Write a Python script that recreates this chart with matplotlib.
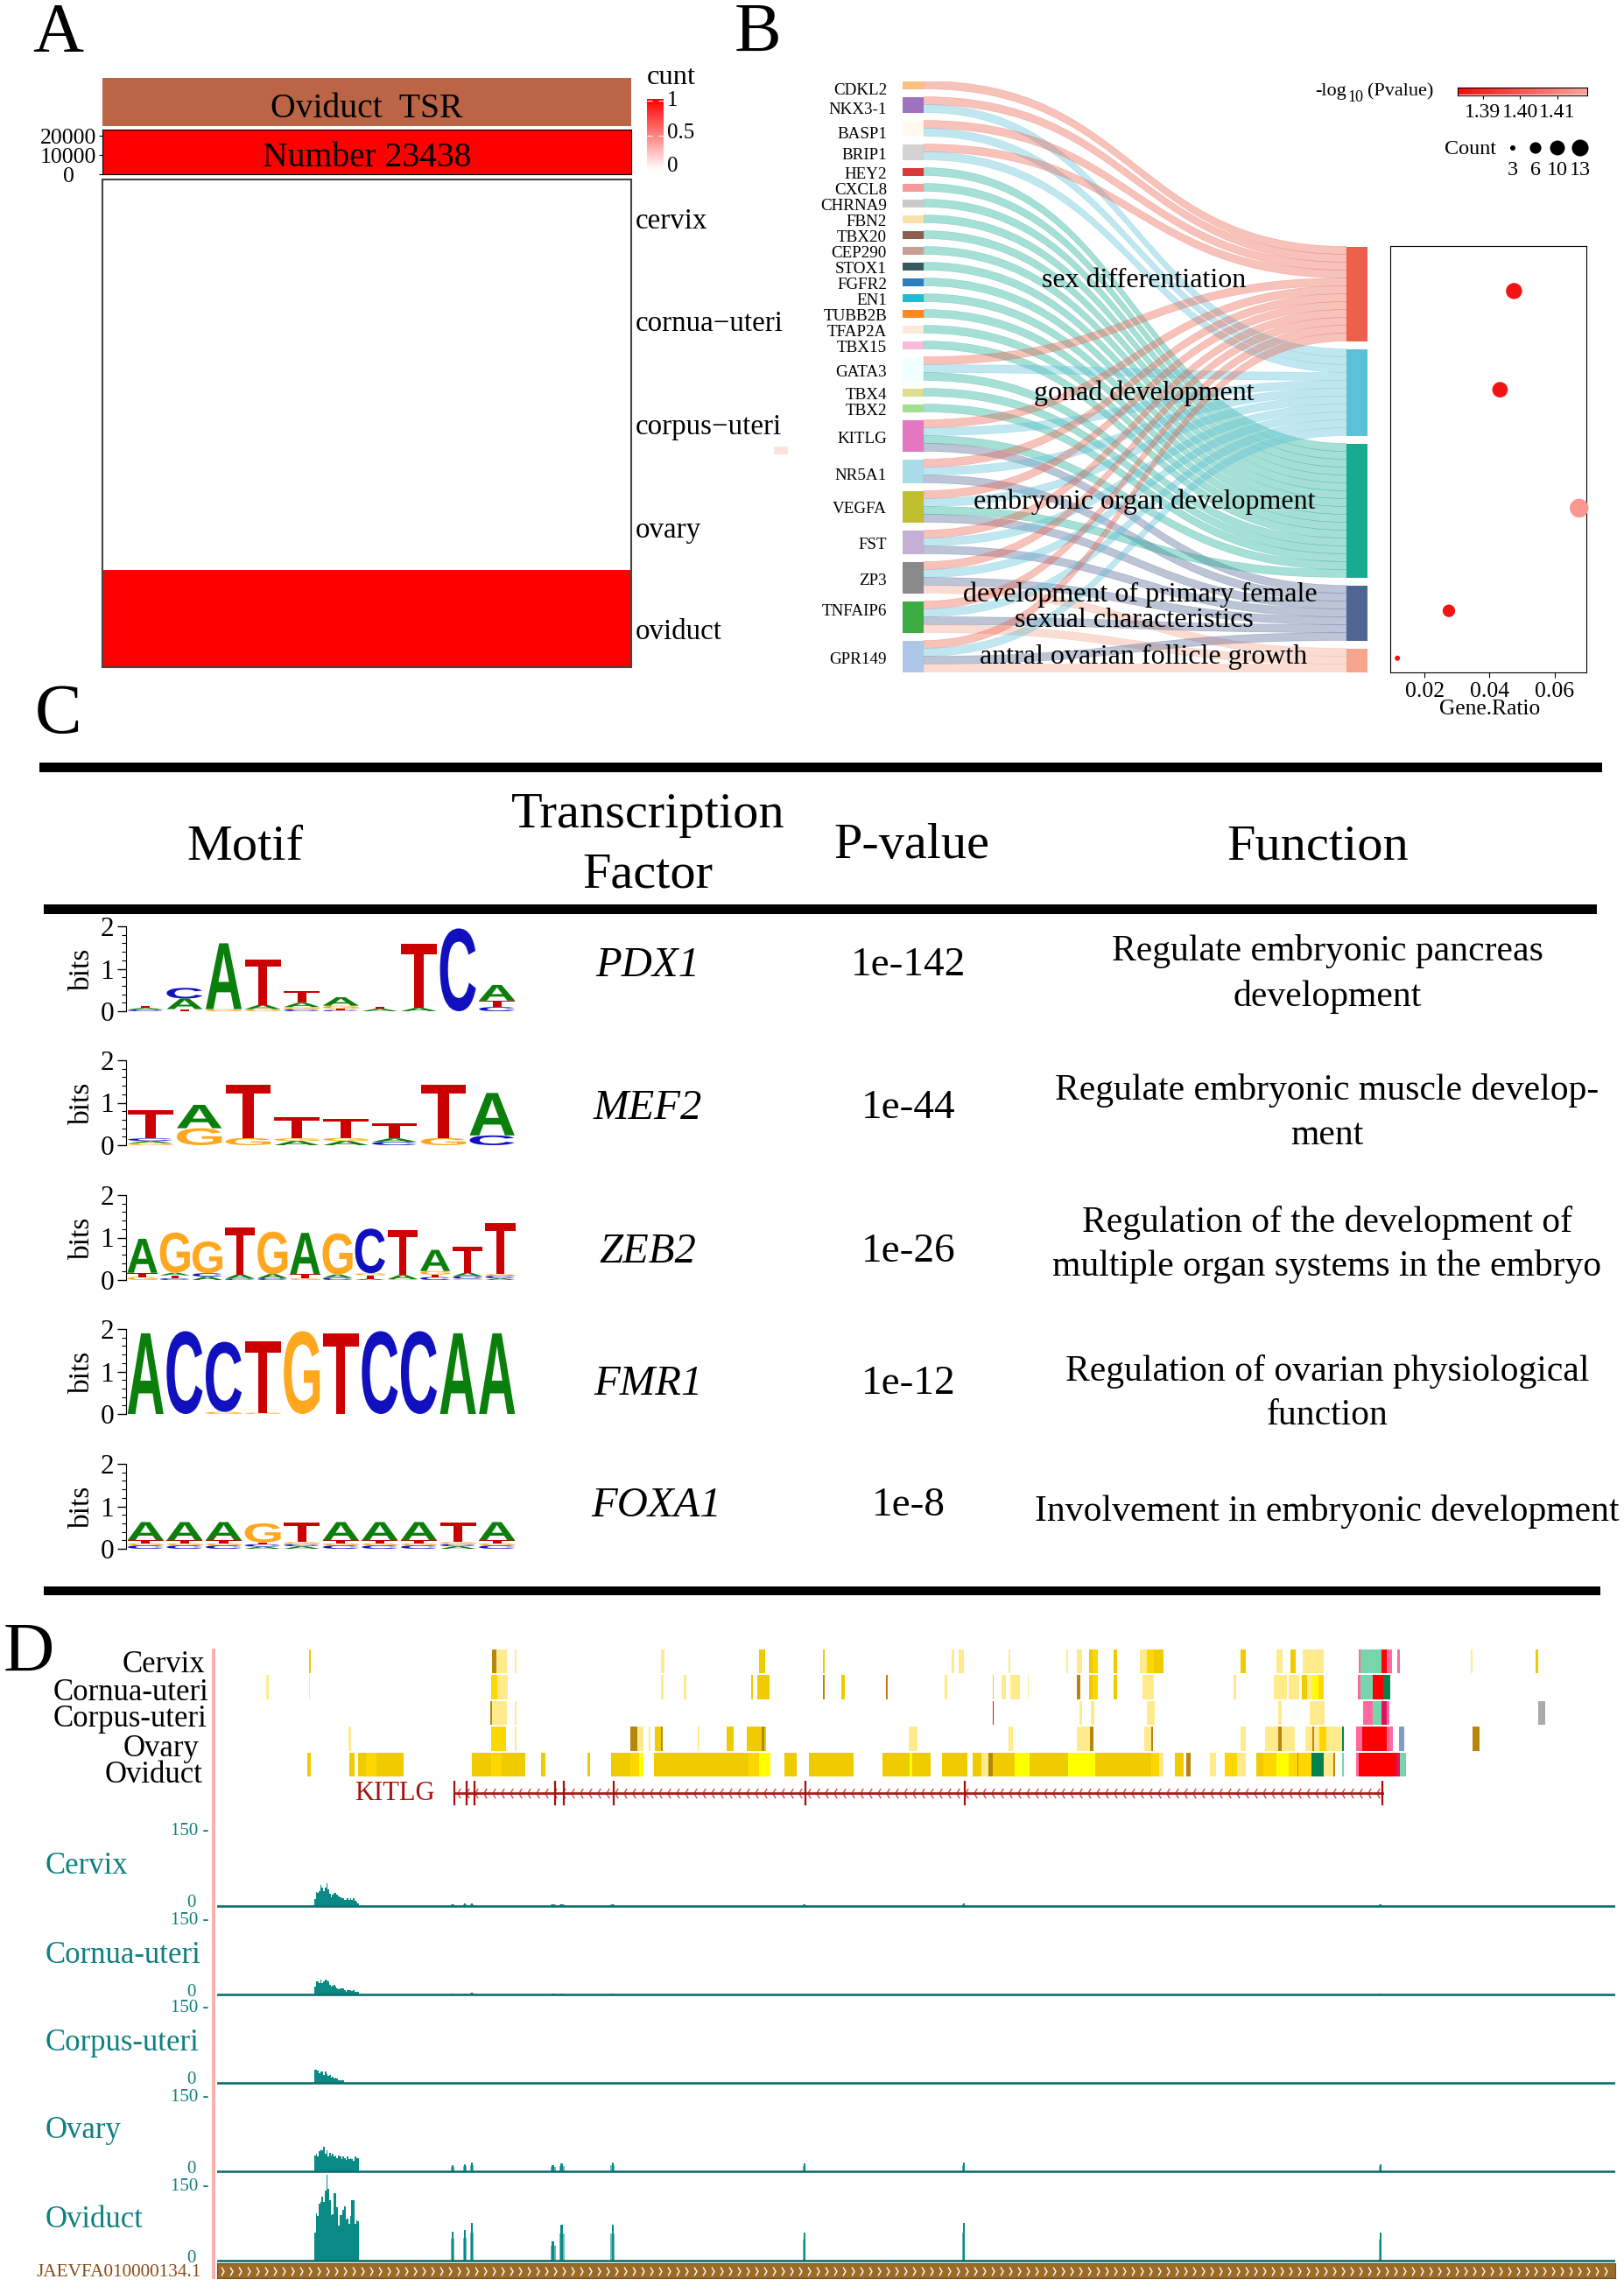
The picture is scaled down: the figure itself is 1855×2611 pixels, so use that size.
import numpy as np
import matplotlib
matplotlib.use('Agg')
import matplotlib.pyplot as plt
from matplotlib.colors import LinearSegmentedColormap
from matplotlib.patches import PathPatch, Rectangle
from matplotlib.path import Path
from matplotlib.textpath import TextPath
from matplotlib.font_manager import FontProperties
from matplotlib.ticker import MultipleLocator

plt.rcParams['font.family'] = ['Liberation Serif', 'DejaVu Sans']

W, H = 1856, 2611

# ---- panel A data
tissues = ['cervix', 'cornua\u2212uteri', 'corpus\u2212uteri', 'ovary', 'oviduct']
tissue_counts = [0, 0, 0, 0, 1]
tsr_number = 23438
number_ticks = [0, 10000, 20000]

# ---- panel B data
genes = ['CDKL2', 'NKX3-1', 'BASP1', 'BRIP1', 'HEY2', 'CXCL8', 'CHRNA9', 'FBN2', 'TBX20',
         'CEP290', 'STOX1', 'FGFR2', 'EN1', 'TUBB2B', 'TFAP2A', 'TBX15', 'GATA3', 'TBX4',
         'TBX2', 'KITLG', 'NR5A1', 'VEGFA', 'FST', 'ZP3', 'TNFAIP6', 'GPR149']
gene_colors = ['#FDBF7F', '#9E71C1', '#FFF9EE', '#D3D3D3', '#D9383A', '#F79A9A', '#C9C9C9',
               '#FCE0AC', '#8D5D50', '#C69F95', '#365A5E', '#2F7EBC', '#22BCD2', '#FF8821',
               '#FCE9D8', '#F8BBD9', '#F0FFFF', '#DEDC8F', '#A2E08F', '#E377C2', '#A9DCE8',
               '#BFBF2F', '#C5B0D5', '#8A8A8A', '#3CAB42', '#AEC7E8']
terms = ['sex differentiation', 'gonad development', 'embryonic organ development',
         'development of primary female\nsexual characteristics', 'antral ovarian follicle growth']
term_colors = ['#EC5F4B', '#5BC0DA', '#17AB92', '#4F6593', '#F4A58C']
# term index of every gene
gene_terms = [[0], [0, 1], [0, 1], [0, 1], [2], [2], [2], [2], [2], [2], [2], [2], [2], [2], [2], [2],
              [0, 1, 2], [2], [2], [0, 1, 2, 3], [0, 1, 3], [0, 1, 2, 3], [0, 1, 3],
              [0, 1, 3, 4], [0, 1, 3, 4], [0, 1, 3, 4]]
gene_ratio = [0.0475, 0.0432, 0.0675, 0.0275, 0.0117]
term_pvalue = [1.385, 1.385, 1.415, 1.385, 1.385]
term_count = [12, 11, 17, 7, 3]
count_legend = [3, 6, 10, 13]
pvalue_ticks = [1.39, 1.40, 1.41]
ratio_ticks = [0.02, 0.04, 0.06]

# ---- panel C data, letters stacked bottom to top in bits
logo_pdx1 = [[('C', .04), ('A', .04), ('T', .05)], [('T', .05), ('A', .25), ('C', .25)],
             [('G', .05), ('A', 1.55)], [('G', .05), ('A', .1), ('T', 1.07)],
             [('C', .05), ('G', .05), ('A', .1), ('T', .27)], [('C', .03), ('T', .03), ('G', .07), ('A', .2)],
             [('A', .06), ('T', .05)], [('A', .08), ('T', 1.5)], [('C', 1.95)],
             [('C', .1), ('T', .15), ('A', .37)]]
logo_mef2 = [[('G', .05), ('A', .05), ('C', .06), ('T', .67)], [('G', .4), ('A', .55)],
             [('G', .17), ('T', 1.25)], [('A', .1), ('G', .06), ('T', .5)],
             [('A', .1), ('G', .07), ('T', .45)], [('C', .08), ('A', .08), ('T', .35)],
             [('G', .17), ('T', 1.25)], [('C', .23), ('A', 1.0)]]
logo_zeb2 = [[('G', .07), ('T', .1), ('A', .8)], [('C', .04), ('T', .07), ('A', .06), ('G', .95)],
             [('A', .08), ('C', .08), ('G', .75)], [('C', .03), ('A', .1), ('T', 1.1)],
             [('C', .04), ('A', .1), ('G', 1.0)], [('G', .04), ('T', .1), ('A', .97)],
             [('C', .05), ('A', .08), ('G', .97)], [('A', .03), ('T', .08), ('G', .05), ('C', 1.05)],
             [('G', .02), ('A', .1), ('T', 1.05)], [('C', .07), ('T', .06), ('G', .08), ('A', .5)],
             [('G', .03), ('C', .06), ('A', .08), ('T', .62)], [('A', .04), ('C', .06), ('G', .04), ('T', 1.2)]]
logo_fmr1 = [[('A', 1.9)], [('C', 1.95)], [('G', .05), ('C', 1.65)], [('G', .03), ('T', 1.68)],
             [('G', 1.95)], [('T', 1.9)], [('C', 1.95)], [('C', 1.95)], [('A', 1.9)], [('A', 1.9)]]
logo_foxa1 = [[('C', .08), ('G', .05), ('T', .07), ('A', .43)], [('C', .08), ('G', .05), ('T', .07), ('A', .43)],
              [('C', .08), ('G', .05), ('T', .07), ('A', .43)], [('A', .05), ('C', .06), ('T', .04), ('G', .45)],
              [('A', .06), ('C', .05), ('G', .05), ('T', .45)], [('C', .08), ('G', .05), ('T', .07), ('A', .43)],
              [('C', .08), ('G', .05), ('T', .07), ('A', .43)], [('C', .08), ('G', .05), ('T', .07), ('A', .43)],
              [('A', .06), ('C', .05), ('G', .05), ('T', .45)], [('C', .08), ('G', .05), ('T', .07), ('A', .43)]]
logos = [logo_pdx1, logo_mef2, logo_zeb2, logo_fmr1, logo_foxa1]
factors = ['PDX1', 'MEF2', 'ZEB2', 'FMR1', 'FOXA1']
pvalues = ['1e-142', '1e-44', '1e-26', '1e-12', '1e-8']
functions = [['Regulate embryonic pancreas', 'development'],
             ['Regulate embryonic muscle develop-', 'ment'],
             ['Regulation of the development of', 'multiple organ systems in the embryo'],
             ['Regulation of ovarian physiological', 'function'],
             ['Involvement in embryonic development']]

# ---- panel D data, browser position
state_tracks = ['Cervix', 'Cornua-uteri', 'Corpus-uteri', 'Ovary', 'Oviduct']
cervix_states = [(353, 355, 'Y'), (562, 567, 'B'), (567, 579, 'P'), (588, 590, 'P'), (755, 759, 'P'),
                 (867, 874, 'Y'), (940, 942, 'Y'), (1087, 1090, 'P'), (1095, 1101, 'P'), (1152, 1154, 'P'),
                 (1218, 1220, 'P'), (1230, 1236, 'P'), (1244, 1248, 'Y'), (1248, 1254, 'O'), (1272, 1276, 'Y'),
                 (1302, 1310, 'P'), (1310, 1318, 'O'), (1318, 1329, 'Y'), (1417, 1423, 'Y'), (1458, 1465, 'P'),
                 (1474, 1480, 'Y'), (1488, 1512, 'P'), (1552, 1554, 'K'), (1554, 1578, 'M'), (1578, 1584, 'R'),
                 (1584, 1590, 'K'), (1596, 1599, 'K'), (1680, 1682, 'P'), (1754, 1757, 'Y')]
cornua_states = [(304, 307, 'P'), (353, 354, 'P'), (561, 568, 'O'), (568, 580, 'P'), (755, 758, 'P'),
                 (781, 784, 'P'), (858, 860, 'Y'), (865, 879, 'Y'), (940, 942, 'B'), (961, 965, 'Y'),
                 (1012, 1014, 'B'), (1079, 1082, 'P'), (1134, 1135, 'Y'), (1144, 1149, 'P'), (1154, 1165, 'P'),
                 (1174, 1175, 'P'), (1230, 1234, 'B'), (1244, 1248, 'Y'), (1248, 1254, 'O'), (1272, 1276, 'Y'),
                 (1305, 1315, 'P'), (1315, 1318, 'P'), (1409, 1412, 'P'), (1455, 1470, 'P'), (1472, 1484, 'P'),
                 (1487, 1493, 'Y'), (1493, 1499, 'P'), (1499, 1506, 'L'), (1506, 1512, 'O'), (1551, 1554, 'K'),
                 (1554, 1568, 'M'), (1568, 1580, 'R'), (1580, 1588, 'N')]
corpus_states = [(560, 562, 'B'), (562, 579, 'P'), (588, 590, 'P'), (1134, 1135, 'R'), (1233, 1236, 'P'),
                 (1246, 1250, 'P'), (1310, 1319, 'P'), (1460, 1464, 'P'), (1496, 1513, 'P'), (1557, 1568, 'K'),
                 (1568, 1578, 'M'), (1578, 1584, 'C'), (1584, 1587, 'K'), (1757, 1765, 'S')]
ovary_states = [(398, 401, 'P'), (561, 578, 'O'), (588, 590, 'P'), (720, 728, 'B'), (728, 735, 'P'),
                (741, 743, 'P'), (748, 755, 'Y'), (755, 757, 'B'), (797, 799, 'P'), (830, 838, 'Y'),
                (853, 870, 'Y'), (870, 873, 'B'), (873, 875, 'Y'), (1038, 1048, 'P'), (1152, 1157, 'P'),
                (1230, 1245, 'P'), (1245, 1249, 'B'), (1307, 1315, 'P'), (1315, 1317, 'B'), (1417, 1423, 'P'),
                (1445, 1460, 'P'), (1460, 1464, 'B'), (1464, 1479, 'P'), (1491, 1499, 'P'), (1499, 1501, 'B'),
                (1501, 1507, 'P'), (1507, 1515, 'O'), (1515, 1533, 'P'), (1533, 1535, 'N'), (1549, 1556, 'K'),
                (1556, 1584, 'R'), (1584, 1591, 'K'), (1598, 1604, 'U'), (1682, 1690, 'B')]
oviduct_states = [(351, 355, 'Y'), (399, 405, 'Y'), (409, 418, 'Y'), (418, 430, 'O'), (430, 461, 'Y'),
                  (539, 561, 'Y'), (561, 573, 'O'), (573, 600, 'Y'), (618, 623, 'Y'), (671, 674, 'Y'),
                  (698, 720, 'Y'), (720, 730, 'O'), (730, 735, 'L'), (747, 782, 'Y'), (782, 855, 'Y'),
                  (855, 867, 'O'), (867, 880, 'L'), (896, 910, 'Y'), (924, 975, 'Y'), (1008, 1039, 'Y'),
                  (1039, 1042, 'L'), (1042, 1063, 'Y'), (1076, 1105, 'Y'), (1111, 1121, 'Y'), (1121, 1129, 'P'),
                  (1129, 1134, 'B'), (1134, 1159, 'Y'), (1159, 1176, 'L'), (1176, 1220, 'Y'), (1220, 1251, 'L'),
                  (1251, 1315, 'Y'), (1315, 1324, 'O'), (1324, 1329, 'P'), (1342, 1352, 'Y'), (1355, 1360, 'B'),
                  (1382, 1389, 'P'), (1399, 1413, 'O'), (1413, 1423, 'P'), (1435, 1443, 'Y'), (1443, 1458, 'O'),
                  (1458, 1472, 'L'), (1472, 1482, 'O'), (1482, 1483, 'B'), (1483, 1498, 'O'), (1498, 1512, 'N'),
                  (1512, 1523, 'P'), (1523, 1525, 'B'), (1533, 1535, 'M'), (1549, 1552, 'K'), (1552, 1595, 'R'),
                  (1595, 1599, 'C'), (1599, 1606, 'M')]
state_rows = [cervix_states, cornua_states, corpus_states, ovary_states, oviduct_states]
state_colors = {'Y': '#EFCB00', 'O': '#FFD700', 'L': '#FFFF00', 'P': '#FFEB8C', 'B': '#B8860B',
                'N': '#00834C', 'M': '#76D6AB', 'K': '#FF69A0', 'R': '#FF0000', 'C': '#E0115F',
                'S': '#AAAAAA', 'U': '#7D9CC8'}
gene_name = 'KITLG'
gene_span = [519, 1579]
exons = [519, 533, 542, 634, 644, 701, 920, 1102, 1579]

signal_tracks = ['Cervix', 'Cornua-uteri', 'Corpus-uteri', 'Ovary', 'Oviduct']
cervix_main = [12, 24, 22, 25, 36, 32, 26, 32, 40, 29, 21, 15, 20, 22, 23, 19, 16, 15, 14, 13, 10, 11, 13, 11, 14, 11, 14, 9, 7, 5]
cornua_main = [14, 23, 22, 20, 25, 20, 22, 25, 24, 23, 17, 13, 15, 17, 13, 10, 9, 10, 10, 10, 7, 5, 7, 7, 7, 6, 7, 4, 4, 4]
corpus_main = [22, 23, 21, 17, 20, 19, 14, 20, 15, 12, 13, 9, 10, 7, 9, 7, 5, 5, 4, 4]
ovary_main = [28, 31, 26, 35, 38, 36, 43, 31, 36, 26, 32, 28, 31, 26, 28, 23, 27, 25, 21, 26, 23, 20, 25, 21, 23, 21, 18, 25, 23, 23]
oviduct_main = [48, 82, 78, 98, 101, 111, 101, 121, 148, 124, 104, 79, 81, 116, 116, 93, 61, 79, 79, 88, 94, 71, 73, 63, 78, 104, 104, 63, 70, 68]
main_signal = [cervix_main, cornua_main, corpus_main, ovary_main, oviduct_main]
peak_pos = [517, 531, 539, 632, 642, 700, 919, 1101, 1577]
peak_width = [4, 4, 4, 6, 6, 5, 3, 3, 3]
cervix_peaks = [3, 5, 4, 3, 3, 3, 3, 4, 3]
cornua_peaks = [2, 2, 3, 2, 2, 2, 0, 0, 2]
corpus_peaks = [0, 0, 0, 0, 0, 0, 0, 0, 0]
ovary_peaks = [10, 12, 15, 11, 13, 15, 13, 15, 12]
oviduct_peaks = [50, 53, 65, 34, 62, 62, 49, 65, 49]
peak_signal = [cervix_peaks, cornua_peaks, corpus_peaks, ovary_peaks, oviduct_peaks]
contig = 'JAEVFA010000134.1'


def ax_px(x0, y0, x1, y1, **kw):
    return fig.add_axes([x0 / W, 1 - y1 / H, (x1 - x0) / W, (y1 - y0) / H], **kw)


def text_px(x, y, s, size, ha='center', va='center', **kw):
    return fig.text(x / W, 1 - y / H, s, fontsize=size, ha=ha, va=va, **kw)


def rule_px(x0, x1, y0, y1):
    fig.add_artist(Rectangle((x0 / W, 1 - y1 / H), (x1 - x0) / W, (y1 - y0) / H,
                             transform=fig.transFigure, color='black', lw=0))


fig = plt.figure(figsize=(W / 100, H / 100), dpi=100)
for letter, x, y in [('A', 37, 59), ('B', 839, 59), ('C', 40, 837), ('D', 4, 1909)]:
    text_px(x, y, letter, 58, ha='left', va='baseline')

# ------------------------------ panel A
tsr_ax = ax_px(117, 89, 721, 144)
tsr_ax.bar([0], [1], width=1, color='#BB6546')
tsr_ax.set_xlim(-.5, .5)
tsr_ax.set_ylim(0, 1)
tsr_ax.axis('off')
text_px(419, 125, 'Oviduct  TSR', 28.5)

num_ax = ax_px(117, 148, 721, 199)
num_ax.bar([0], [tsr_number], width=1, color='red')
num_ax.set_xlim(-.5, .5)
num_ax.set_ylim(0, tsr_number)
num_ax.set_xticks([])
num_ax.set_yticks(number_ticks)
num_ax.set_yticklabels([str(v) for v in number_ticks], fontsize=18.5, ha='center')
num_ax.tick_params(axis='y', length=3, pad=25)
text_px(419, 181, 'Number %d' % tsr_number, 28.5)

white_red = LinearSegmentedColormap.from_list('white_red', ['white', 'red'])
heat_ax = ax_px(117, 205, 721, 762)
heat_ax.pcolormesh(np.array(tissue_counts).reshape(-1, 1), cmap=white_red, vmin=0, vmax=1)
heat_ax.invert_yaxis()
heat_ax.set_xticks([])
heat_ax.set_yticks([])
for s in heat_ax.spines.values():
    s.set_color('#444444')
    s.set_linewidth(1.5)
for name, y in zip(tissues, [253, 370, 488, 606, 722]):
    text_px(726, y, name, 23.8, ha='left')

text_px(739, 88, 'cunt', 23.4, ha='left')
cbar_ax = ax_px(739, 113, 758, 194)
cbar_ax.imshow(np.linspace(1, 0, 100).reshape(-1, 1), cmap=white_red, aspect='auto', extent=[0, 1, 0, 1.03])
cbar_ax.set_xticks([])
cbar_ax.set_yticks([0, .5, 1])
cbar_ax.set_yticklabels([])
cbar_ax.tick_params(axis='y', direction='in', length=4, color='white', right=True)
for s in cbar_ax.spines.values():
    s.set_visible(False)
for lab, y in zip(['1', '0.5', '0'], [115, 152, 190]):
    text_px(762, y, lab, 18, ha='left')
fig.add_artist(Rectangle((884 / W, 1 - 519 / H), 16 / W, 9 / H, transform=fig.transFigure, color='#FEE3DD', lw=0))

# ------------------------------ panel B
node_w = 24 / 531 * 22.1
x_end = 22.1
sankey = ax_px(1031, 92.5, 1562, 767.5)
sankey.set_xlim(0, x_end)
sankey.set_ylim(75, 0)
sankey.axis('off')

# left stack positions, one unit per flow, one unit gap between nodes
gene_top = []
y = 0
for g in gene_terms:
    gene_top.append(y)
    y += len(g) + 1
term_top = []
y = 21
for c in term_count:
    term_top.append(y)
    y += c + 1
term_mid = [t + c / 2 for t, c in zip(term_top, term_count)]

term_next = list(term_top)
x0, x1 = node_w, x_end - node_w
xm = (x0 + x1) / 2
for i, g in enumerate(gene_terms):
    for k, t in enumerate(g):
        a = gene_top[i] + k
        b = term_next[t]
        term_next[t] += 1
        verts = [(x0, a), (xm, a), (xm, b), (x1, b), (x1, b + 1), (xm, b + 1), (xm, a + 1), (x0, a + 1), (x0, a)]
        codes = [Path.MOVETO, Path.CURVE4, Path.CURVE4, Path.CURVE4, Path.LINETO,
                 Path.CURVE4, Path.CURVE4, Path.CURVE4, Path.CLOSEPOLY]
        sankey.add_patch(PathPatch(Path(verts, codes), facecolor=term_colors[t], alpha=.38, lw=.4, edgecolor=term_colors[t]))
for i, g in enumerate(gene_terms):
    sankey.add_patch(Rectangle((0, gene_top[i]), node_w, len(g), color=gene_colors[i], lw=0))
for t, c in enumerate(term_count):
    sankey.add_patch(Rectangle((x_end - node_w, term_top[t]), node_w, c, color=term_colors[t], lw=0))

gene_label_y = [103, 126, 153, 177, 200, 218, 236, 254, 272, 290, 308, 326, 344, 362, 380, 398, 425,
                452, 470, 501, 543, 582, 623, 663, 699, 753]
for name, y in zip(genes, gene_label_y):
    text_px(1013, y, name, 13.7, ha='right')
text_px(1307, 321, terms[0], 23)
text_px(1307, 449, terms[1], 23)
text_px(1307, 573, terms[2], 23)
first, second = terms[3].split('\n')
text_px(1302, 679, first, 23)
text_px(1295, 708, second, 23)
text_px(1306, 750, terms[4], 23)

pval_cmap = LinearSegmentedColormap.from_list('pval', ['#F20D0D', '#FAA49C'])
pval_lim = (1.3833, 1.418)


def bubble_size(c):
    d = 6 + 15.5 * np.sqrt((np.asarray(c) - 3) / 14)
    return (d * .72) ** 2


bub = ax_px(1588, 281, 1812, 768)
bub.scatter(gene_ratio, term_mid, s=bubble_size(term_count), c=term_pvalue, cmap=pval_cmap,
            vmin=pval_lim[0], vmax=pval_lim[1], lw=0, zorder=3, clip_on=False)
bub.set_xlim(0.0095, 0.0697)
bub.set_ylim(75.3, 21.3)
bub.set_yticks([])
bub.set_xticks(ratio_ticks)
bub.set_xticklabels(['%.2f' % v for v in ratio_ticks], fontsize=18.5)
bub.tick_params(axis='x', length=4, pad=4)
text_px(1702, 810, 'Gene.Ratio', 18.4)

text_px(1502, 105, '-log', 16, ha='left')
text_px(1539, 111, '10', 13, ha='left')
text_px(1562, 105, '(Pvalue)', 16, ha='left')
pbar = ax_px(1665, 100, 1813, 108.5)
pbar.imshow(np.linspace(0, 1, 200).reshape(1, -1), cmap=pval_cmap, aspect='auto',
            extent=[pval_lim[0], pval_lim[1], 0, 1])
pbar.set_yticks([])
pbar.set_xticks(pvalue_ticks)
pbar.set_xticklabels(['%.2f' % v for v in pvalue_ticks], fontsize=17)
pbar.tick_params(axis='x', length=3, pad=4)

text_px(1650, 170, 'Count', 17.4, ha='left')
count_ax = ax_px(1715, 155, 1825, 205)
count_ax.set_xlim(1715, 1825)
count_ax.set_ylim(205, 155)
count_ax.axis('off')
count_x = [1728, 1754, 1779, 1805]
count_ax.scatter(count_x, [169] * 4, s=bubble_size(count_legend), color='black', lw=0, clip_on=False)
for c, x in zip(count_legend, count_x):
    text_px(x, 194, str(c), 17.4)

# ------------------------------ panel C
rule_px(45, 1830, 871, 882)
rule_px(50, 1824, 1033, 1044)
rule_px(50, 1828, 1812, 1822)
text_px(280, 968, 'Motif', 42)
text_px(740, 931, 'Transcription', 42)
text_px(740, 1000, 'Factor', 42)
text_px(1041, 966, 'P-value', 42)
text_px(1505, 967, 'Function', 42)

letter_colors = {'A': '#0B7F0B', 'C': '#1010BE', 'G': '#FFA81F', 'T': '#CC0000'}
logo_font = FontProperties(family='Liberation Sans', weight='bold')
letter_paths = {ch: TextPath((0, 0), ch, size=1, prop=logo_font) for ch in 'ACGT'}


def draw_logo(ax, stacks):
    for col, stack in enumerate(stacks):
        base = 0
        for ch, h in stack:
            p = letter_paths[ch]
            box = p.get_extents()
            v = p.vertices.copy()
            v[:, 0] = (v[:, 0] - box.x0) / box.width * .92 + col + .54
            v[:, 1] = (v[:, 1] - box.y0) / box.height * h + base
            ax.add_patch(PathPatch(Path(v, p.codes), color=letter_colors[ch], lw=0))
            base += h
    ax.set_xlim(.5, len(stacks) + .5)
    ax.set_ylim(0, 2)
    ax.set_xticks([])
    ax.set_yticks([0, 1, 2])
    ax.set_yticklabels(['0', '1', '2'], fontsize=22.5)
    ax.yaxis.set_minor_locator(MultipleLocator(.2))
    ax.tick_params(axis='y', which='major', length=7, width=1, pad=3)
    ax.tick_params(axis='y', which='minor', length=3.5, width=.8)
    for s in ['top', 'right', 'bottom']:
        ax.spines[s].set_visible(False)


logo_base_y = [1155, 1308, 1462, 1615, 1769]
tf_y = [1103, 1266, 1430, 1581, 1720]
for i, stacks in enumerate(logos):
    ax = ax_px(144, logo_base_y[i] - 97, 590, logo_base_y[i])
    ax.patch.set_alpha(0)
    draw_logo(ax, stacks)
    text_px(94, logo_base_y[i] - 48, 'bits', 24, rotation=90)
    text_px(740 if i < 4 else 750, tf_y[i], factors[i], 35, style='italic')
    text_px(1038, tf_y[i], pvalues[i], 34)
func_y = [[1087, 1138], [1245, 1297], [1397, 1447], [1567, 1617], [1727]]
for lines, ys in zip(functions, func_y):
    for line, y in zip(lines, ys):
        text_px(1516, y, line, 30)

# ------------------------------ panel D
fig.add_artist(Rectangle((242 / W, 1 - 2603 / H), 4 / W, (2603 - 1883) / H,
                         transform=fig.transFigure, color='#F8B0B0', lw=0))
track_x = (248, 1845)
state_ax = ax_px(track_x[0], 1884, track_x[1], 2030)
state_ax.set_xlim(track_x)
state_ax.set_ylim(4.95, 0)
state_ax.axis('off')
for r, row in enumerate(state_rows):
    for a, b, code in row:
        state_ax.broken_barh([(a, b - a)], (r, .93), color=state_colors[code], lw=0)
state_label_xy = [(234, 1902), (238, 1933), (236, 1964), (228, 1997), (232, 2027)]
for name, (x, y) in zip(state_tracks, state_label_xy):
    text_px(x, y, name, 25, ha='right')

gene_ax = ax_px(track_x[0], 2030, track_x[1], 2066)
gene_ax.set_xlim(track_x)
gene_ax.set_ylim(1, 0)
gene_ax.axis('off')
chevron = Path([(.3, -1), (-.3, 0), (.3, 1)], [Path.MOVETO, Path.LINETO, Path.LINETO])
arrow_x = np.arange(gene_span[0] + 5, gene_span[1], 10)
gene_ax.plot(arrow_x, [.5] * len(arrow_x), ls='', marker=chevron, ms=8, mfc='none', mec='#D85050', mew=1.1)
gene_ax.plot(gene_span, [.5, .5], color='#A51C1C', lw=2)
gene_ax.vlines(exons, .1, .9, color='#A50F0F', lw=1.6)
text_px(451, 2048, gene_name, 22, color='#A51010')

teal = '#0A8A85'
baselines = [2177, 2278, 2379, 2480, 2582]
label_y = [2131, 2233, 2334, 2434, 2536]
for i, name in enumerate(signal_tracks):
    ax = ax_px(track_x[0], baselines[i] - 99, track_x[1], baselines[i] + 1.5)
    vals = main_signal[i]
    edges = 359 + 1.7 * np.arange(len(vals) + 1)
    ax.stairs(vals, edges, fill=True, color=teal, lw=0)
    # faded shoulder under a thin core, the way the browser smooths narrow peaks
    ax.bar(peak_pos, np.array(peak_signal[i]) * .75, width=peak_width, color=teal, alpha=.6, lw=0)
    ax.bar(peak_pos, peak_signal[i], width=np.array(peak_width) * .5, color=teal, lw=0)
    ax.axhline(0, color='#0E6F6F', lw=1.9)
    ax.set_xlim(track_x)
    ax.set_ylim(-2.3, 150)
    ax.axis('off')
    text_px(52, label_y[i], name, 25, ha='left', color='#0F7F7F')
    text_px(238, baselines[i] - 85, '150 -', 15, ha='right', color='#0F7F7F')
    text_px(224, baselines[i] - 3, '0', 15, ha='right', color='#0F7F7F')

contig_ax = ax_px(track_x[0], 2585, track_x[1], 2602)
contig_ax.set_xlim(track_x)
contig_ax.set_ylim(0, 1)
contig_ax.set_facecolor('#9A6A28')
contig_ax.set_xticks([])
contig_ax.set_yticks([])
for s in contig_ax.spines.values():
    s.set_color('#7A5018')
arrow = Path([(-.3, -1), (.3, 0), (-.3, 1)], [Path.MOVETO, Path.LINETO, Path.LINETO])
marks = np.arange(track_x[0] + 6, track_x[1] - 4, 10)
contig_ax.plot(marks, [.5] * len(marks), ls='', marker=arrow, ms=7, mfc='none', mec='white', mew=1)
text_px(230, 2596, contig, 15.3, ha='right', color='#8B4A14')

fig.savefig('out.png', dpi=100)
